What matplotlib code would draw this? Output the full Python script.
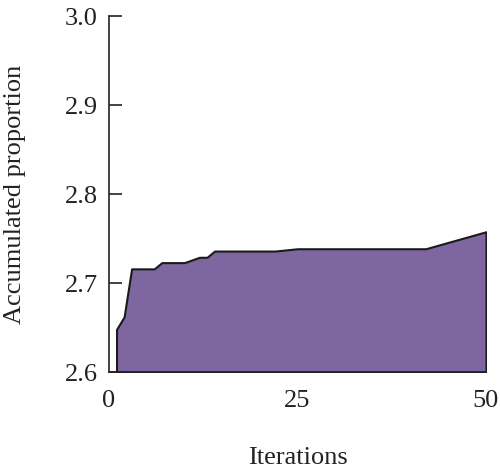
import matplotlib.pyplot as plt

iterations = [1, 1, 2, 3, 6, 7, 10, 12, 13, 14, 22, 25, 42, 50]
proportion = [2.6, 2.648, 2.662, 2.716, 2.716, 2.723, 2.723, 2.729, 2.729,
              2.736, 2.736, 2.7386, 2.7386, 2.7577]

plt.rcParams['font.family'] = 'Liberation Serif'

fig = plt.figure(figsize=(5, 4.74), dpi=100)
ax = fig.add_axes([0.218, 0.215, 0.754, 0.751])

ax.fill_between(iterations, 2.6, proportion, facecolor='#7e66a0',
                edgecolor='#1a1a1a', linewidth=1.5)

ax.set_xlim(0, 50)
ax.set_ylim(2.6, 3.0)
ax.set_xticks([0, 25, 50])
ax.set_yticks([2.6, 2.7, 2.8, 2.9, 3.0])
ax.set_yticklabels(['2.6', '2.7', '2.8', '2.9', '3.0'])

ax.spines['top'].set_visible(False)
ax.spines['right'].set_visible(False)
for s in ['left', 'bottom']:
    ax.spines[s].set_linewidth(1.2)
    ax.spines[s].set_color('#222222')

ax.tick_params(axis='y', direction='in', length=9, width=1.2, pad=8,
               labelsize=19, colors='#222222')
ax.tick_params(axis='x', length=0, pad=13, labelsize=19, colors='#222222')

ax.set_xlabel('Iterations', fontsize=19, labelpad=25, color='#222222')
ax.set_ylabel('Accumulated proportion', fontsize=19, labelpad=28, color='#222222')

plt.savefig('out.png', dpi=100)
